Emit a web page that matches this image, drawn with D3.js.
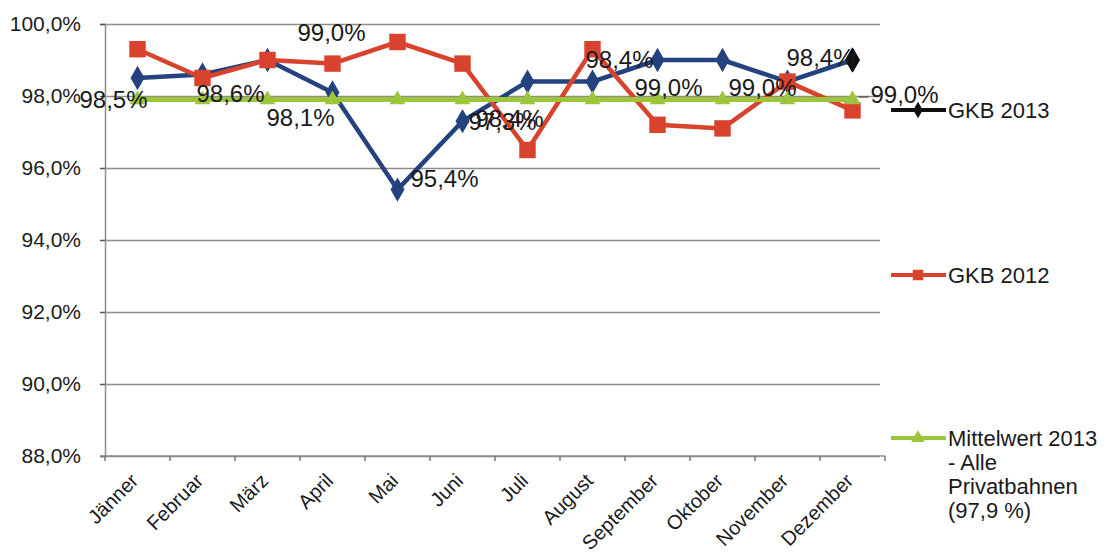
<!DOCTYPE html>
<html>
<head>
<meta charset="utf-8">
<script src="https://cdn.jsdelivr.net/npm/d3@7"></script>
<style>
  body { margin: 0; background: #fff; }
  text { font-family: "Liberation Sans", Arial, sans-serif; fill: #1a1a1a; }
</style>
</head>
<body>
<script>
const months = ['Jänner', 'Februar', 'März', 'April', 'Mai', 'Juni', 'Juli', 'August', 'September', 'Oktober', 'November', 'Dezember'];
const gkb2013 = [98.5, 98.6, 99.0, 98.1, 95.4, 97.3, 98.4, 98.4, 99.0, 99.0, 98.4, 99.0];
const gkb2012 = [99.3, 98.5, 99.0, 98.9, 99.5, 98.9, 96.5, 99.3, 97.2, 97.1, 98.4, 97.6];
const mittelwert = [97.9, 97.9, 97.9, 97.9, 97.9, 97.9, 97.9, 97.9, 97.9, 97.9, 97.9, 97.9];
const yTicks = [88, 90, 92, 94, 96, 98, 100];
const legendNames = ['GKB 2013', 'GKB 2012', ['Mittelwert 2013', '- Alle', 'Privatbahnen', '(97,9 %)']];

// where the (hand placed) data labels of GKB 2013 sit, relative to their point
const labelShift = [[-24, 22], [28, 19], [64, -27], [-32, 25], [47, -11], [40, 0],
                    [-18, 37], [27, -22], [11, 28], [40, 28], [33, -24], [52, 35]];

const W = 1106, H = 559;
const fmt = v => v.toFixed(1).replace('.', ',') + '%';

const svg = d3.select('body').append('svg').attr('width', W).attr('height', H);

const x = d3.scaleBand().domain(months).range([105, 885]);
const y = d3.scaleLinear().domain([88, 100]).range([456, 24]);
const cx = m => x(m) + x.bandwidth() / 2;

// grid
svg.append('g')
   .attr('transform', 'translate(105,0)')
   .call(d3.axisLeft(y).tickValues(yTicks).tickSize(-775).tickFormat(''))
   .call(g => g.select('.domain').remove())
   .selectAll('line').attr('stroke', '#8e8e86').attr('stroke-width', 1.5);

// y axis
svg.append('g')
   .attr('transform', 'translate(105,0)')
   .call(d3.axisLeft(y).tickValues(yTicks).tickSize(5).tickPadding(19).tickFormat(fmt))
   .call(g => g.select('.domain').attr('stroke', '#8e8e86').attr('stroke-width', 1.5))
   .call(g => g.selectAll('line').attr('stroke', '#555').attr('stroke-width', 1.5))
   .call(g => g.selectAll('text').style('font-size', '21px').attr('fill', '#1a1a1a'));

// x axis
const xg = svg.append('g');
xg.append('line').attr('x1', 100).attr('x2', 885).attr('y1', y(88)).attr('y2', y(88))
  .attr('stroke', '#8e8e86').attr('stroke-width', 1.5);
xg.selectAll('.tk').data(months.concat([null])).join('line')
  .attr('x1', d => d ? x(d) : x.range()[1]).attr('x2', d => d ? x(d) : x.range()[1])
  .attr('y1', y(88)).attr('y2', y(88) + 5)
  .attr('stroke', '#777').attr('stroke-width', 1.5);
xg.selectAll('.xl').data(months).join('text')
  .attr('text-anchor', 'end')
  .attr('transform', d => `translate(${cx(d) + 2},${y(88) + 26}) rotate(-45)`)
  .style('font-size', '20px')
  .text(d => d);

// series
const series = [
  { name: 'GKB 2013', vals: gkb2013, color: '#23427f', shape: d3.symbolDiamond, size: 170 },
  { name: 'GKB 2012', vals: gkb2012, color: '#d9432d', shape: d3.symbolSquare, size: 270 },
  { name: 'Mittelwert', vals: mittelwert, color: '#9cc53b', shape: d3.symbolTriangle, size: 110 }
];
const line = d3.line().x((d, i) => cx(months[i])).y(d => y(d));

series.forEach((s, si) => {
  svg.append('path').datum(s.vals).attr('d', line)
     .attr('fill', 'none').attr('stroke', s.color).attr('stroke-width', si === 2 ? 5 : 4.5)
     .attr('stroke-linejoin', 'round');
  svg.selectAll('.m' + si).data(s.vals).join('path')
     .attr('transform', (d, i) => `translate(${cx(months[i])},${y(d)})`)
     .attr('d', d3.symbol().type(s.shape).size(s.size))
     .attr('fill', (d, i) => (si === 0 && i === 11) ? '#111' : s.color)
     .attr('stroke', (d, i) => (si === 0 && i === 11) ? '#111' : 'none');
});

// data labels GKB 2013
const lastPt = [cx(months[11]), y(gkb2013[11])];
svg.append('line')
   .attr('x1', lastPt[0] + 6).attr('x2', lastPt[0] + labelShift[11][0] - 36)
   .attr('y1', lastPt[1] + labelShift[11][1] + 2).attr('y2', lastPt[1] + labelShift[11][1] + 2)
   .attr('stroke', '#333').attr('stroke-width', 1);
svg.selectAll('.dl').data(gkb2013).join('text')
   .attr('x', (d, i) => cx(months[i]) + labelShift[i][0])
   .attr('y', (d, i) => y(d) + labelShift[i][1])
   .attr('text-anchor', 'middle').attr('dy', '0.35em')
   .style('font-size', '24px').attr('fill', '#222')
   .text(d => fmt(d));

// legend
const legY = [110, 275, 438];
series.forEach((s, i) => {
  const g = svg.append('g').attr('transform', `translate(891,${legY[i]})`);
  g.append('line').attr('x1', 0).attr('x2', 55)
   .attr('stroke', i === 0 ? '#111' : s.color).attr('stroke-width', 4);
  g.append('path').attr('transform', 'translate(27,0)')
   .attr('d', d3.symbol().type(s.shape).size(i === 1 ? 110 : 80))
   .attr('fill', i === 0 ? '#111' : s.color);
  const lab = [].concat(legendNames[i]);
  const t = g.append('text').attr('x', 57).attr('y', 0).style('font-size', '22px');
  lab.forEach((l, k) => t.append('tspan').attr('x', 57).attr('dy', k === 0 ? '0.35em' : '24px').text(l));
});
</script>
</body>
</html>
